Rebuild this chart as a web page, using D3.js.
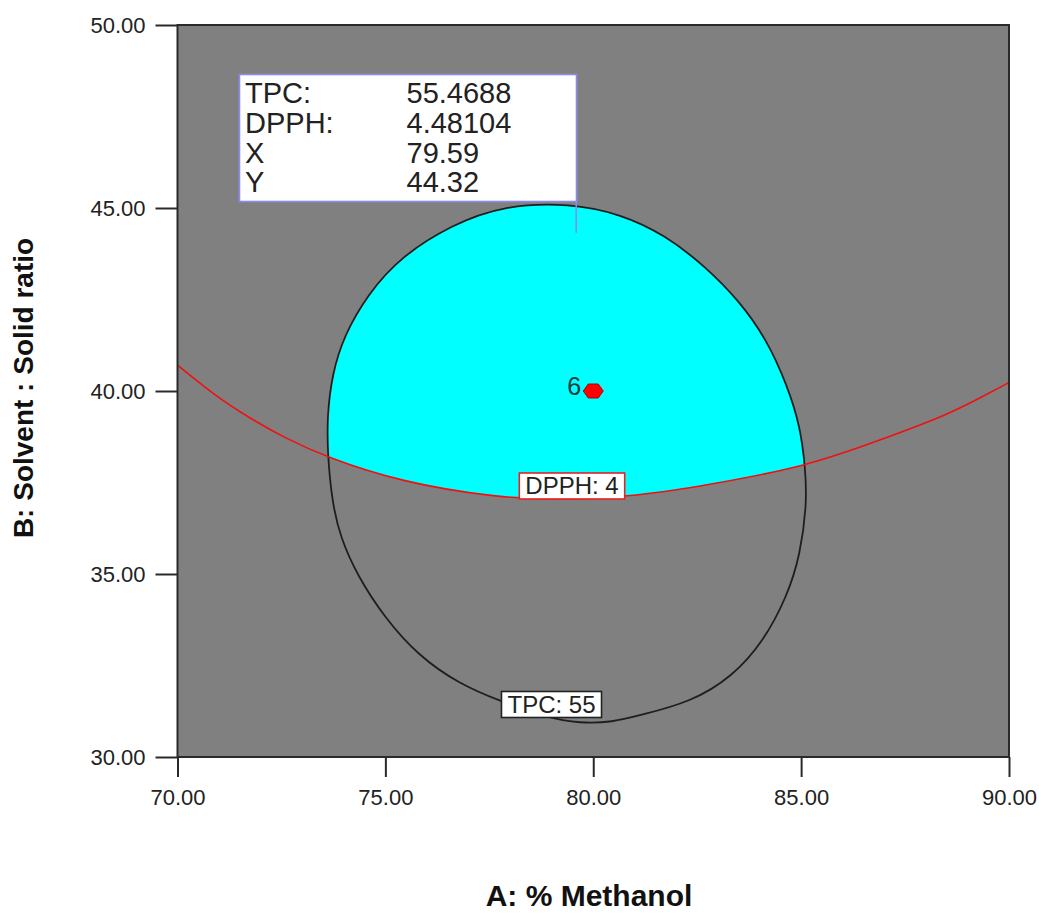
<!DOCTYPE html>
<html lang="en">
<head>
<meta charset="utf-8">
<script src="https://d3js.org/d3.v7.min.js"></script>
<style>
  body { margin: 0; background: #fff; }
  text { font-family: "Liberation Sans", Arial, sans-serif; }
</style>
</head>
<body>
<div id="my_dataviz"></div>
<script>

// axis ranges and ticks
var xTicks = [70, 75, 80, 85, 90];
var yTicks = [30, 35, 40, 45, 50];

// TPC = 55 contour (A, B)
var tpcX = [79.45, 80.67, 81.73, 82.70, 83.52, 84.17, 84.66, 84.98, 85.10, 85.14, 84.98, 84.66, 84.09, 83.35, 82.35, 81.12, 80.47, 79.68, 78.89, 77.75, 76.77, 75.79, 74.98, 74.33, 73.92, 73.72, 73.61, 73.60, 73.72, 74.00, 74.57, 75.39, 76.60, 77.82];
var tpcY = [45.13, 44.83, 44.26, 43.40, 42.45, 41.41, 40.17, 39.03, 37.90, 36.95, 35.52, 34.38, 33.15, 32.20, 31.50, 31.14, 30.95, 30.92, 31.07, 31.53, 32.00, 32.77, 33.81, 34.95, 35.99, 36.95, 38.27, 39.32, 40.46, 41.50, 42.64, 43.69, 44.54, 45.07];

// DPPH = 4 contour
var dpphX = [70, 70.94, 71.74, 72.54, 73.60, 75.39, 77.66, 79.20, 81.08, 82.70, 85.14, 86.90, 88.50, 89.30, 90];
var dpphY = [40.71, 39.84, 39.26, 38.74, 38.18, 37.51, 37.09, 37.02, 37.13, 37.42, 37.94, 38.66, 39.34, 39.81, 40.23];

// design point
var pointX = 80, pointY = 40, pointLabel = "6";

// flag box
var flagNames = ["TPC:", "DPPH:", "X", "Y"];
var flagValues = ["55.4688", "4.48104", "79.59", "44.32"];
var flagX = 79.59, flagY = 44.32;

var tpcLabel = "TPC: 55", dpphLabel = "DPPH: 4";

var svg = d3.select("#my_dataviz")
  .append("svg")
  .attr("width", 1039)
  .attr("height", 914);

var x = d3.scaleLinear().domain([70, 90]).range([177.5, 1009]);
var y = d3.scaleLinear().domain([30, 50]).range([757, 25]);

var tpc = tpcX.map(function(d, i) { return [d, tpcY[i]]; });
var dpph = dpphX.map(function(d, i) { return [d, dpphY[i]]; });

// plot background
svg.append("rect")
  .attr("x", x(70)).attr("y", y(50))
  .attr("width", x(90) - x(70)).attr("height", y(30) - y(50))
  .attr("fill", "#808080");

// clip: region above the DPPH line
svg.append("clipPath").attr("id", "aboveDpph")
  .append("path")
  .attr("d", d3.area()
    .x(function(d) { return x(d[0]); })
    .y0(y(50))
    .y1(function(d) { return y(d[1]); })
    .curve(d3.curveBasis)(dpph));

var tpcLine = d3.line()
  .x(function(d) { return x(d[0]); })
  .y(function(d) { return y(d[1]); })
  .curve(d3.curveBasisClosed);

svg.append("path")
  .attr("d", tpcLine(tpc))
  .attr("fill", "#00ffff")
  .attr("clip-path", "url(#aboveDpph)");

svg.append("path")
  .attr("d", tpcLine(tpc))
  .attr("fill", "none")
  .attr("stroke", "#1e1e1e")
  .attr("stroke-width", 1.8);

svg.append("path")
  .attr("d", d3.line()
    .x(function(d) { return x(d[0]); })
    .y(function(d) { return y(d[1]); })
    .curve(d3.curveBasis)(dpph))
  .attr("fill", "none")
  .attr("stroke", "#ee1111")
  .attr("stroke-width", 1.6);

// contour labels
function contourLabel(txt, cx, top, stroke) {
  var g = svg.append("g");
  var t = g.append("text")
    .attr("x", cx).attr("y", top + 21)
    .attr("text-anchor", "middle")
    .attr("font-size", 24)
    .attr("fill", "#222")
    .text(txt);
  var bb = t.node().getBBox();
  g.insert("rect", "text")
    .attr("x", bb.x - 6).attr("y", top)
    .attr("width", bb.width + 12).attr("height", 26)
    .attr("fill", "#fff")
    .attr("stroke", stroke)
    .attr("stroke-width", 1.6);
}
contourLabel(dpphLabel, 572, 473, "#e82020");
contourLabel(tpcLabel, 551.5, 691.5, "#222");

// design point marker
var px = x(pointX), py = y(pointY);
svg.append("path")
  .attr("d", "M" + (px - 10) + "," + py + "L" + (px - 5) + "," + (py - 7) + "L" + (px + 5) + "," + (py - 7) +
    "L" + (px + 10) + "," + py + "L" + (px + 5) + "," + (py + 7) + "L" + (px - 5) + "," + (py + 7) + "Z")
  .attr("fill", "#ff0000")
  .attr("stroke", "#b00000")
  .attr("stroke-width", 1);
svg.append("text")
  .attr("x", px - 12).attr("y", py + 4)
  .attr("text-anchor", "end")
  .attr("font-size", 25)
  .attr("fill", "#1c3a3a")
  .text(pointLabel);

// flag box and leader
var boxL = 239.5, boxT = 74.5, boxR = 576.5, boxB = 201.5;
svg.append("line")
  .attr("x1", x(flagX)).attr("x2", x(flagX))
  .attr("y1", boxB).attr("y2", y(flagY))
  .attr("stroke", "#8a8af0").attr("stroke-width", 1.6);
svg.append("rect")
  .attr("x", boxL).attr("y", boxT)
  .attr("width", boxR - boxL).attr("height", boxB - boxT)
  .attr("fill", "#fff")
  .attr("stroke", "#8a8af0")
  .attr("stroke-width", 1.6);
flagNames.forEach(function(n, i) {
  svg.append("text").attr("x", 245).attr("y", 103 + i * 29.8)
    .attr("font-size", 29).attr("fill", "#222").text(n);
  svg.append("text").attr("x", 406.5).attr("y", 103 + i * 29.8)
    .attr("font-size", 29).attr("fill", "#222").text(flagValues[i]);
});

// frame
svg.append("rect")
  .attr("x", x(70)).attr("y", y(50))
  .attr("width", x(90) - x(70)).attr("height", y(30) - y(50))
  .attr("fill", "none")
  .attr("stroke", "#2a2a2a")
  .attr("stroke-width", 2);

// axes
var xAxis = svg.append("g")
  .attr("transform", "translate(0," + y(30) + ")")
  .call(d3.axisBottom(x).tickValues(xTicks).tickSize(20).tickPadding(12).tickFormat(d3.format(".2f")));
var yAxis = svg.append("g")
  .attr("transform", "translate(" + x(70) + ",0)")
  .call(d3.axisLeft(y).tickValues(yTicks).tickSize(22).tickPadding(10).tickFormat(d3.format(".2f")));
[xAxis, yAxis].forEach(function(a) {
  a.select(".domain").remove();
  a.selectAll(".tick line").attr("stroke", "#2a2a2a").attr("stroke-width", 2);
  a.selectAll(".tick text")
    .attr("font-family", "Liberation Sans, Arial, sans-serif")
    .attr("font-size", 22).attr("fill", "#222");
});

// axis titles
svg.append("text")
  .attr("x", 589).attr("y", 906)
  .attr("text-anchor", "middle")
  .attr("font-size", 30).attr("font-weight", "bold").attr("fill", "#111")
  .text("A: % Methanol");
svg.append("text")
  .attr("transform", "translate(33,388) rotate(-90)")
  .attr("text-anchor", "middle")
  .attr("font-size", 28).attr("font-weight", "bold").attr("fill", "#111")
  .text("B: Solvent : Solid ratio");

</script>
</body>
</html>
